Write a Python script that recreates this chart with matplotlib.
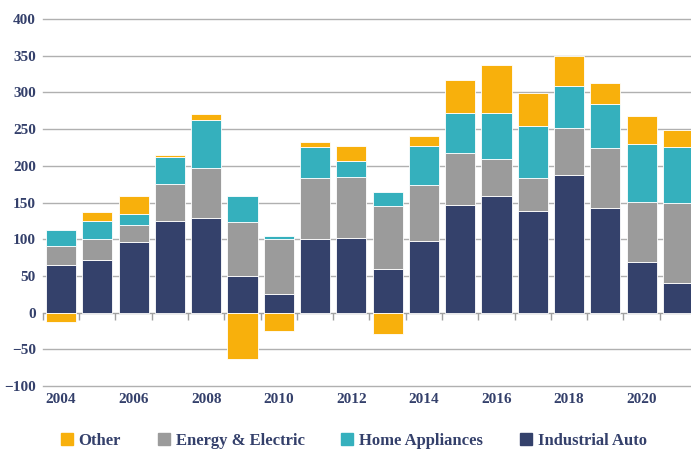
import matplotlib
matplotlib.use("Agg")
import matplotlib.pyplot as plt
import matplotlib.patches as mpatches
import numpy as np

years = list(range(2004, 2022))
industrial_auto = [65, 72, 96, 125, 129, 50, 25, 100, 102, 60, 98, 146, 159, 139, 187, 142, 69, 40]
energy_electric = [26, 28, 24, 50, 68, 74, 75, 84, 83, 85, 76, 72, 50, 45, 65, 82, 82, 110]
home_appliances = [21, 25, 15, 37, 66, 35, 5, 41, 22, 19, 53, 54, 63, 70, 56, 60, 78, 75]
other = [-13, 12, 24, 2, 7, -63, -25, 7, 20, -29, 14, 45, 65, 45, 41, 29, 39, 24]

series = [("Industrial Auto", industrial_auto, "#34416b"),
          ("Energy & Electric", energy_electric, "#9b9b9b"),
          ("Home Appliances", home_appliances, "#35b0bd"),
          ("Other", other, "#f8b00c")]

text_color = "#34406b"
plt.rcParams['font.family'] = ['Liberation Serif', 'DejaVu Serif']

fig = plt.figure(figsize=(6.91, 4.5), dpi=100)
ax = fig.add_axes([0.062, 0.142, 0.938, 0.816])

x = np.arange(len(years))
pos_base = np.zeros(len(years))
neg_base = np.zeros(len(years))
handles = {}
for name, vals, color in series:
    vals = np.array(vals, dtype=float)
    bottom = np.where(vals >= 0, pos_base, neg_base)
    ax.bar(x, vals, bottom=bottom, width=0.83, color=color,
           edgecolor="white", linewidth=0.6, zorder=3)
    handles[name] = mpatches.Patch(color=color)
    pos_base = pos_base + np.where(vals >= 0, vals, 0)
    neg_base = neg_base + np.where(vals < 0, vals, 0)

ax.set_xlim(-0.5, 17.36)
ax.set_ylim(-100, 400)
ax.set_yticks(range(-100, 401, 50))
for yv in range(-100, 401, 50):
    ax.axhline(yv, color="#b0b0b0" if yv != 0 else "#a0a0a0",
               linewidth=1.0, zorder=1, clip_on=False)

for s in ax.spines.values():
    s.set_visible(False)

ax.set_xticks(x[::2])
ax.set_xticklabels([str(y) for y in years[::2]])
ax.tick_params(axis="x", length=0, pad=5, labelsize=11, labelcolor=text_color)
ax.tick_params(axis="y", length=0, pad=5, labelsize=11, labelcolor=text_color)
for lab in ax.get_xticklabels() + ax.get_yticklabels():
    lab.set_fontweight("bold")

# small tick marks between bars at the zero line
sec = ax.secondary_xaxis(0.2)
sec.set_xticks(np.arange(-0.5, len(years), 1.0))
sec.set_xticklabels([])
sec.tick_params(axis="x", length=5, color="#a0a0a0", width=1)
sec.spines["bottom"].set_visible(False)

order = ["Other", "Energy & Electric", "Home Appliances", "Industrial Auto"]
leg = fig.legend([handles[n] for n in order], order, loc="center",
                 bbox_to_anchor=(0.512, 0.02), ncol=4, frameon=False,
                 handlelength=0.72, handleheight=0.72, handletextpad=0.36,
                 columnspacing=2.2, borderpad=0,
                 prop={"size": 12, "weight": "bold"})
for t in leg.get_texts():
    t.set_color(text_color)

fig.savefig("out.png", dpi=100)
